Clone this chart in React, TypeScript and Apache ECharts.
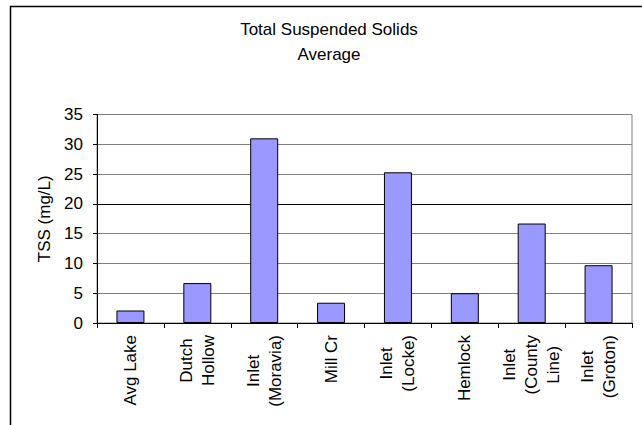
import React, { useEffect, useRef } from "react";
import * as echarts from "echarts";

const categories = [
  "Avg Lake",
  "Dutch\nHollow",
  "Inlet\n(Moravia)",
  "Mill Cr",
  "Inlet\n(Locke)",
  "Hemlock",
  "Inlet\n(County\nLine)",
  "Inlet\n(Groton)",
];
const tssValues = [2.1, 6.7, 31.0, 3.4, 25.3, 5.0, 16.7, 9.7];
const titleLines = ["Total Suspended Solids", "Average"];
const yAxisName = "TSS (mg/L)";

const FONT = "'Liberation Sans', Arial, sans-serif";

export default function App() {
  const ref = useRef<HTMLDivElement>(null);
  useEffect(() => {
    document.body.style.margin = "0";
    if (!ref.current) return;
    const chart = echarts.init(ref.current, null, { renderer: "svg" });
    const gridColors = ["#808080", "#808080", "#808080", "#808080", "#000000", "#808080", "#808080", "#808080"];
    chart.setOption({
      animation: false,
      backgroundColor: "#ffffff",
      textStyle: { fontFamily: FONT },
      title: {
        text: titleLines.join("\n"),
        left: 324,
        top: 12,
        textAlign: "center",
        textStyle: { fontSize: 17, fontWeight: "normal", color: "#000", lineHeight: 25, fontFamily: FONT },
      },
      graphic: [
        {
          type: "rect",
          shape: { x: 10.5, y: 6.5, width: 700, height: 500 },
          style: { fill: "none", stroke: "#000", lineWidth: 1.5 },
          silent: true,
        },
      ],
      grid: {
        left: 97,
        top: 114.5,
        right: 10,
        bottom: 102,
        show: true,
        borderColor: "#808080",
        borderWidth: 1,
        backgroundColor: "transparent",
      },
      xAxis: {
        type: "category",
        data: categories,
        axisLine: { lineStyle: { color: "#000", width: 1 } },
        axisTick: { show: true, length: 5, inside: false, alignWithLabel: false, lineStyle: { color: "#000" } },
        axisLabel: {
          rotate: 90,
          interval: 0,
          margin: 12,
          color: "#000",
          fontSize: 17,
          fontFamily: FONT,
          lineHeight: 22,
          formatter: (v: string) =>
            v
              .split("\n")
              .map((l) => `{a|${l}}`)
              .join("\n"),
          rich: {
            a: { align: "center", fontSize: 17, lineHeight: 22, color: "#000", fontFamily: FONT },
          },
        },
      },
      yAxis: {
        type: "value",
        min: 0,
        max: 35,
        interval: 5,
        name: yAxisName,
        nameLocation: "middle",
        nameGap: 43,
        nameTextStyle: { fontSize: 17, color: "#000", fontFamily: FONT },
        axisLine: { show: true, lineStyle: { color: "#000", width: 1 } },
        axisTick: { show: true, length: 4, lineStyle: { color: "#000" } },
        axisLabel: { color: "#000", fontSize: 17, margin: 14, fontFamily: FONT },
        splitLine: { show: true, lineStyle: { color: gridColors, width: 1 } },
      },
      series: [
        {
          type: "bar",
          data: tssValues,
          barWidth: 28,
          itemStyle: { color: "#9999FF", borderColor: "#000", borderWidth: 1 },
        },
      ],
    });
    return () => chart.dispose();
  }, []);
  return <div ref={ref} style={{ width: 642, height: 425 }} />;
}
